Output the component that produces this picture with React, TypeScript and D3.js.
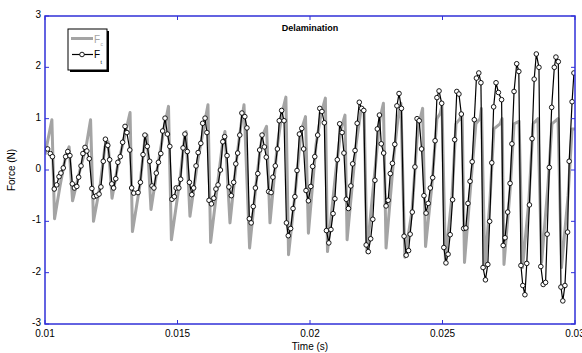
import * as d3 from 'd3';

// Fc (grey, model) : [time (s), force (N)]
const fcData: [number, number][] = [
  [0.01000, 0.3], [0.01026, 0.98], [0.01036, -0.95], [0.01057, -0.3], [0.01079, 0.3], [0.01091, 0.45],
  [0.01104, -0.6], [0.01132, 0.0], [0.01155, 0.45], [0.01172, 0.98], [0.01183, -1.0], [0.01208, -0.3],
  [0.01226, 0.45], [0.01238, 0.55], [0.01253, -0.55], [0.01275, 0.1], [0.01298, 0.6], [0.01321, 1.12],
  [0.01330, -1.2], [0.01358, -0.3], [0.01377, 0.6], [0.01385, 0.68], [0.01400, -0.77], [0.01426, 0.1],
  [0.01449, 0.8], [0.01466, 1.24], [0.01477, -1.36], [0.01509, -0.2], [0.01528, 0.7], [0.01532, 0.75],
  [0.01547, -0.9], [0.01577, 0.2], [0.01600, 0.85], [0.01615, 1.27], [0.01625, -1.41], [0.01653, -0.2],
  [0.01672, 0.6], [0.01679, 0.75], [0.01698, -1.03], [0.01725, 0.3], [0.01743, 1.0], [0.01751, 1.27],
  [0.01772, -1.52], [0.01800, -0.1], [0.01819, 0.65], [0.01836, 0.85], [0.01849, -1.03], [0.01875, 0.4],
  [0.01894, 1.1], [0.01909, 1.42], [0.01919, -1.65], [0.01947, -0.3], [0.01966, 0.75], [0.01983, 1.04],
  [0.01994, -1.23], [0.02023, 0.5], [0.02042, 1.1], [0.02058, 1.4], [0.02066, -1.59], [0.02098, 0.0],
  [0.02117, 0.8], [0.02132, 1.07], [0.02140, -1.36], [0.02174, 0.5], [0.02192, 1.15], [0.02204, 1.17],
  [0.02215, -1.6], [0.02249, 0.2], [0.02264, 1.0], [0.02277, 1.3], [0.02287, -1.52], [0.02317, 0.3],
  [0.02332, 1.0], [0.02343, 1.3], [0.02358, -1.7], [0.02385, -0.8], [0.02404, 0.6], [0.02411, 0.9],
  [0.02425, 1.2], [0.02436, -1.49], [0.02460, -0.3], [0.02479, 1.0], [0.02491, 1.1], [0.02498, 1.25],
  [0.02511, -1.75], [0.02536, -0.5], [0.02551, 0.9], [0.02566, 1.0], [0.02574, 1.1], [0.02583, -1.8],
  [0.02608, -0.2], [0.02626, 0.9], [0.02642, 1.0], [0.02647, 1.2], [0.02660, -1.9], [0.02679, -0.6],
  [0.02694, 0.8], [0.02717, 0.9], [0.02725, 1.0], [0.02732, -1.84], [0.02755, -0.4], [0.02770, 0.9],
  [0.02789, 0.95], [0.02802, -1.9], [0.02826, -0.6], [0.02842, 0.9], [0.02860, 1.0], [0.02874, -1.8],
  [0.02898, -0.3], [0.02913, 0.9], [0.02936, 1.0], [0.02949, -1.9], [0.02974, -0.5], [0.02989, 0.8],
  [0.03000, 0.8],
];

// Ft (black, measured samples) : [time (s), force (N)]
const ftData: [number, number][] = [
  [0.01010, 0.41], [0.01020, 0.32], [0.01028, 0.26], [0.01035, -0.37], [0.01044, -0.29], [0.01053, -0.13],
  [0.01060, -0.06], [0.01069, 0.04], [0.01078, 0.26], [0.01086, 0.36], [0.01094, 0.28], [0.01103, -0.27],
  [0.01111, -0.35], [0.01120, -0.32], [0.01127, -0.14], [0.01136, 0.08], [0.01143, 0.32], [0.01151, 0.44],
  [0.01158, 0.37], [0.01167, 0.22], [0.01177, -0.36], [0.01185, -0.52], [0.01195, -0.50], [0.01204, -0.47],
  [0.01211, -0.33], [0.01220, 0.17], [0.01228, 0.60], [0.01237, 0.48], [0.01244, 0.20], [0.01252, -0.27],
  [0.01259, -0.35], [0.01267, -0.17], [0.01275, 0.15], [0.01284, 0.26], [0.01293, 0.54], [0.01302, 0.85],
  [0.01309, 0.73], [0.01320, 0.39], [0.01327, -0.35], [0.01335, -0.45], [0.01351, -0.44], [0.01360, -0.24],
  [0.01370, 0.30], [0.01377, 0.68], [0.01386, 0.46], [0.01395, 0.17], [0.01404, -0.31], [0.01411, -0.35],
  [0.01420, -0.06], [0.01428, 0.15], [0.01437, 0.32], [0.01444, 0.76], [0.01453, 1.01], [0.01462, 0.70],
  [0.01471, 0.46], [0.01479, -0.57], [0.01488, -0.52], [0.01495, -0.35], [0.01505, -0.35], [0.01512, -0.18],
  [0.01521, 0.43], [0.01528, 0.70], [0.01537, 0.36], [0.01545, -0.24], [0.01554, -0.48], [0.01561, -0.35],
  [0.01570, 0.08], [0.01578, 0.34], [0.01588, 0.52], [0.01595, 0.91], [0.01604, 1.01], [0.01611, 0.73],
  [0.01619, -0.59], [0.01628, -0.66], [0.01637, -0.55], [0.01645, -0.37], [0.01653, -0.29], [0.01662, 0.00],
  [0.01671, 0.55], [0.01678, 0.65], [0.01687, 0.28], [0.01694, -0.33], [0.01703, -0.50], [0.01712, -0.24],
  [0.01720, 0.12], [0.01727, 0.33], [0.01735, 0.68], [0.01743, 1.11], [0.01754, 1.04], [0.01762, 0.82],
  [0.01771, -0.95], [0.01778, -1.03], [0.01786, -0.71], [0.01794, -0.35], [0.01803, -0.07], [0.01810, 0.39],
  [0.01819, 0.68], [0.01828, 0.45], [0.01835, 0.25], [0.01844, -0.42], [0.01853, -0.44], [0.01860, -0.14],
  [0.01869, 0.08], [0.01877, 0.41], [0.01884, 0.96], [0.01893, 1.16], [0.01902, 0.96], [0.01911, -1.03],
  [0.01918, -1.28], [0.01927, -1.14], [0.01936, -0.75], [0.01943, -0.52], [0.01951, -0.01], [0.01960, 0.70],
  [0.01969, 0.81], [0.01976, 0.41], [0.01985, -0.40], [0.01994, -0.60], [0.02003, -0.32], [0.02010, 0.07],
  [0.02018, 0.26], [0.02029, 0.68], [0.02037, 1.20], [0.02045, 1.14], [0.02054, 0.92], [0.02062, -1.18],
  [0.02071, -1.42], [0.02079, -1.16], [0.02087, -0.85], [0.02094, -0.56], [0.02103, 0.20], [0.02112, 0.90],
  [0.02121, 0.73], [0.02128, 0.33], [0.02137, -0.57], [0.02145, -0.75], [0.02154, -0.31], [0.02161, 0.12],
  [0.02170, 0.38], [0.02178, 0.91], [0.02186, 1.32], [0.02195, 1.20], [0.02203, 1.16], [0.02212, -1.46],
  [0.02220, -1.59], [0.02229, -1.34], [0.02237, -0.96], [0.02245, -0.20], [0.02254, 0.80], [0.02262, 1.07],
  [0.02269, 0.51], [0.02278, 0.33], [0.02287, -0.70], [0.02295, -0.59], [0.02303, -0.07], [0.02311, 0.13],
  [0.02320, 0.50], [0.02328, 1.25], [0.02336, 1.49], [0.02345, 1.20], [0.02355, -1.29], [0.02363, -1.66],
  [0.02372, -1.57], [0.02378, -1.25], [0.02386, -0.82], [0.02396, 0.06], [0.02404, 1.00], [0.02412, 0.96],
  [0.02421, 0.41], [0.02430, -0.50], [0.02438, -0.84], [0.02446, -0.65], [0.02454, -0.35], [0.02463, -0.15],
  [0.02472, 0.57], [0.02479, 1.41], [0.02487, 1.54], [0.02497, 1.30], [0.02505, -1.51], [0.02513, -1.81],
  [0.02521, -1.64], [0.02529, -1.26], [0.02538, -0.58], [0.02546, 0.59], [0.02554, 1.53], [0.02562, 1.48],
  [0.02571, 1.09], [0.02580, -1.14], [0.02588, -1.13], [0.02596, -0.65], [0.02604, -0.22], [0.02612, 0.16],
  [0.02620, 0.98], [0.02628, 1.79], [0.02637, 1.89], [0.02645, 1.70], [0.02653, -1.90], [0.02662, -2.14],
  [0.02671, -1.84], [0.02678, -1.00], [0.02686, 0.14], [0.02693, 1.23], [0.02702, 1.70], [0.02711, 1.51],
  [0.02723, 1.37], [0.02729, -1.47], [0.02736, -1.32], [0.02746, -0.82], [0.02755, -0.26], [0.02762, 0.51],
  [0.02770, 1.53], [0.02780, 2.07], [0.02788, 1.92], [0.02796, -1.86], [0.02803, -2.25], [0.02811, -2.43],
  [0.02818, -1.82], [0.02828, -0.68], [0.02838, 0.61], [0.02846, 1.77], [0.02854, 2.26], [0.02864, 2.00],
  [0.02871, -1.88], [0.02880, -2.23], [0.02889, -2.19], [0.02895, -1.25], [0.02903, 0.05], [0.02912, 1.22],
  [0.02922, 2.00], [0.02928, 2.20], [0.02937, 2.11], [0.02947, -2.28], [0.02954, -2.55], [0.02962, -2.25],
  [0.02972, -1.21], [0.02978, 0.17], [0.02989, 1.33], [0.02996, 1.89],
];

const xTicks = [0.01, 0.015, 0.02, 0.025, 0.03];
const yTicks = [-3, -2, -1, 0, 1, 2, 3];

const W = 582;
const H = 353;
const margin = { top: 16, right: 7, bottom: 29, left: 45 };
const axisColor = '#3030d8';
const font = 'Liberation Sans, Arial, sans-serif';

export default function App() {
  const x = d3.scaleLinear().domain([0.01, 0.03]).range([margin.left, W - margin.right]);
  const y = d3.scaleLinear().domain([-3, 3]).range([H - margin.bottom, margin.top]);

  const line = d3.line<[number, number]>()
    .x(d => x(d[0]))
    .y(d => y(d[1]));

  const [x0, x1] = x.range();
  const [y0, y1] = y.range();
  const tick = 4;

  return (
    <div style={{ position: 'fixed', left: 0, top: 0 }}>
      <svg width={W} height={H} style={{ display: 'block', background: '#fff' }}>
        <defs>
          <clipPath id="plot">
            <rect x={x0} y={y1} width={x1 - x0} height={y0 - y1} />
          </clipPath>
        </defs>

        {/* series */}
        <g clipPath="url(#plot)">
          <path d={line(fcData) || ''} fill="none" stroke="#a4a4a4" strokeWidth={3} strokeLinejoin="round" />
          <path d={line(ftData) || ''} fill="none" stroke="#000" strokeWidth={1.2} />
          {ftData.map((d, i) => (
            <circle key={i} cx={x(d[0])} cy={y(d[1])} r={2.3} fill="#fff" stroke="#000" strokeWidth={0.9} />
          ))}
        </g>

        {/* frame + ticks */}
        <rect x={x0} y={y1} width={x1 - x0} height={y0 - y1} fill="none" stroke={axisColor} strokeWidth={1.5} />
        {xTicks.map(t => (
          <g key={'x' + t}>
            <line x1={x(t)} x2={x(t)} y1={y0} y2={y0 - tick} stroke={axisColor} strokeWidth={1} />
            <line x1={x(t)} x2={x(t)} y1={y1} y2={y1 + tick} stroke={axisColor} strokeWidth={1} />
            <text x={x(t)} y={y0 + 13} textAnchor="middle" fontFamily={font} fontSize={10} fill="#000">{t}</text>
          </g>
        ))}
        {yTicks.map(t => (
          <g key={'y' + t}>
            <line x1={x0} x2={x0 + tick} y1={y(t)} y2={y(t)} stroke={axisColor} strokeWidth={1} />
            <line x1={x1} x2={x1 - tick} y1={y(t)} y2={y(t)} stroke={axisColor} strokeWidth={1} />
            <text x={x0 - 4} y={y(t) + 2} textAnchor="end" fontFamily={font} fontSize={10} fill="#000">{t}</text>
          </g>
        ))}

        {/* labels */}
        <text x={(x0 + x1) / 2} y={31} textAnchor="middle" fontFamily={font} fontSize={9} fontWeight="bold">Delamination</text>
        <text x={(x0 + x1) / 2} y={H - 3} textAnchor="middle" fontFamily={font} fontSize={10}>Time (s)</text>
        <text transform={`translate(15,${(y0 + y1) / 2}) rotate(-90)`} textAnchor="middle" fontFamily={font} fontSize={10}>Force (N)</text>

        {/* legend */}
        <g>
          <rect x={70} y={31} width={39} height={41} fill="#000" />
          <rect x={68} y={29} width={39} height={41} fill="#fff" stroke="#000" strokeWidth={1} />
          <line x1={71} x2={93} y1={38.5} y2={38.5} stroke="#a4a4a4" strokeWidth={3} />
          <text x={94} y={43} fontFamily={font} fontSize={10} fill="#a4a4a4">F</text>
          <text x={100.5} y={46} fontFamily={font} fontSize={5} fill="#a4a4a4">c</text>
          <line x1={72} x2={93} y1={54.5} y2={54.5} stroke="#000" strokeWidth={1.2} />
          <circle cx={82} cy={54.5} r={2.3} fill="#fff" stroke="#000" strokeWidth={0.9} />
          <text x={94} y={58} fontFamily={font} fontSize={10} fill="#000">F</text>
          <text x={100.5} y={64} fontFamily={font} fontSize={5} fill="#000">t</text>
        </g>
      </svg>
    </div>
  );
}
